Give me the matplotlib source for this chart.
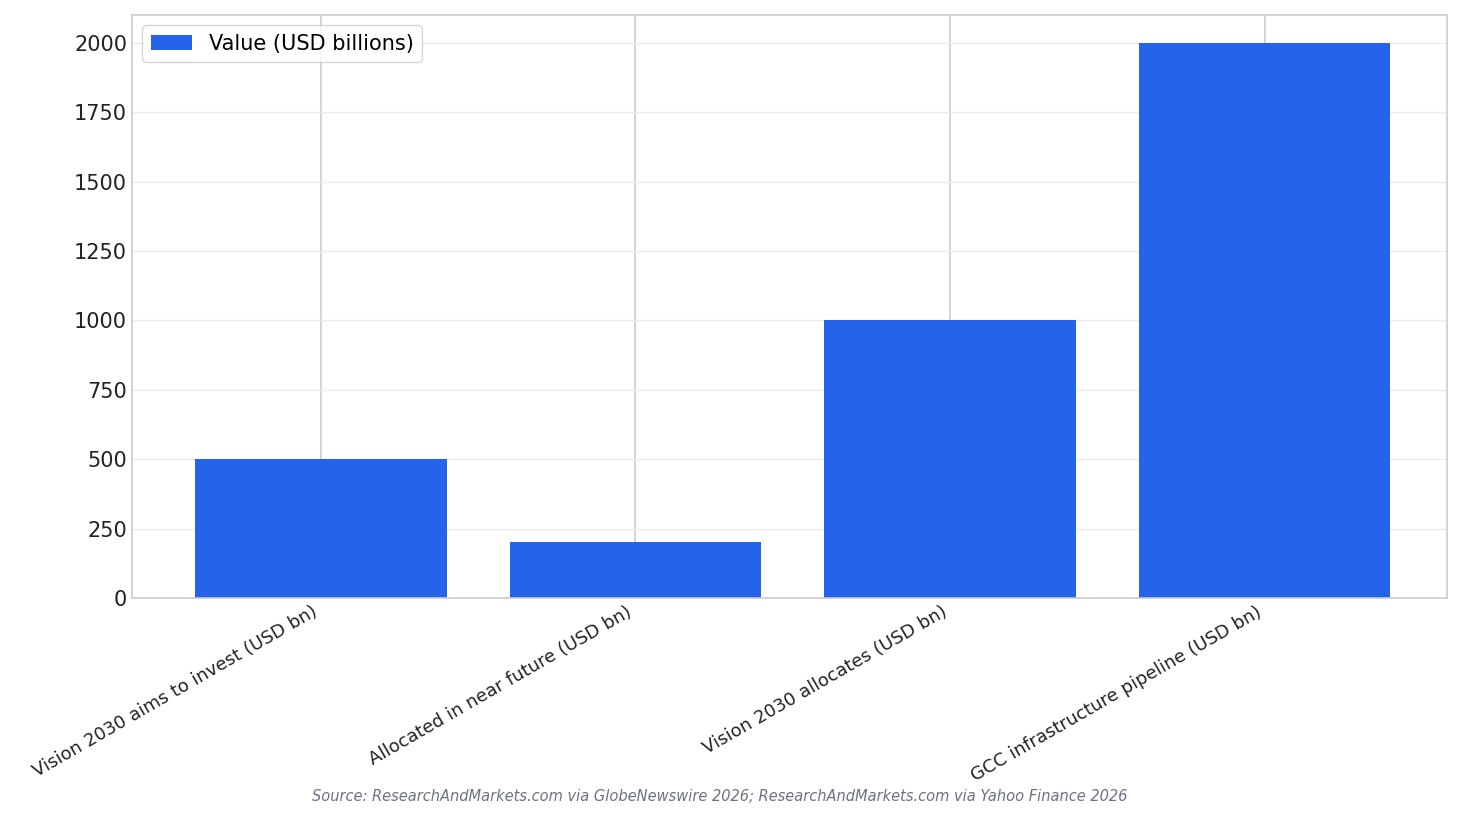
import matplotlib
matplotlib.use("Agg")
import matplotlib.pyplot as plt

categories = ["Vision 2030 aims to invest (USD bn)", "Allocated in near future (USD bn)",
              "Vision 2030 allocates (USD bn)", "GCC infrastructure pipeline (USD bn)"]
values = [500, 200, 1000, 2000]

fig = plt.figure(figsize=(14.63, 8.24), dpi=100)
ax = fig.add_axes([132/1463, 1-598/824, (1447-132)/1463, (598-15)/824])
x = range(len(categories))
ax.bar(x, values, width=0.8, color="#2563EB", label="Value (USD billions)", zorder=2)
ax.set_xticks(list(x))
ax.set_xticklabels(categories, rotation=30, ha="right", fontsize=13, color="#222222")
ax.set_xlim(-0.6, 3.58)
ax.set_ylim(0, 2100)
ax.set_yticks(range(0, 2001, 250))
ax.tick_params(axis="y", labelsize=15, colors="#222222", length=0)
ax.tick_params(axis="x", length=0)
ax.yaxis.grid(True, color="#ebebeb", linewidth=1, zorder=0)
ax.xaxis.grid(True, color="#cccccc", linewidth=1.2, zorder=0)
ax.set_axisbelow(True)
for s in ax.spines.values():
    s.set_color("#cccccc"); s.set_linewidth(1.2)
ax.legend(loc="upper left", fontsize=15, frameon=True, edgecolor="#cccccc")
fig.text(0.492, 0.028, "Source: ResearchAndMarkets.com via GlobeNewswire 2026; ResearchAndMarkets.com via Yahoo Finance 2026",
         ha="center", fontsize=10.5, style="italic", color="#6b7280")
fig.savefig("out.png", dpi=100)
